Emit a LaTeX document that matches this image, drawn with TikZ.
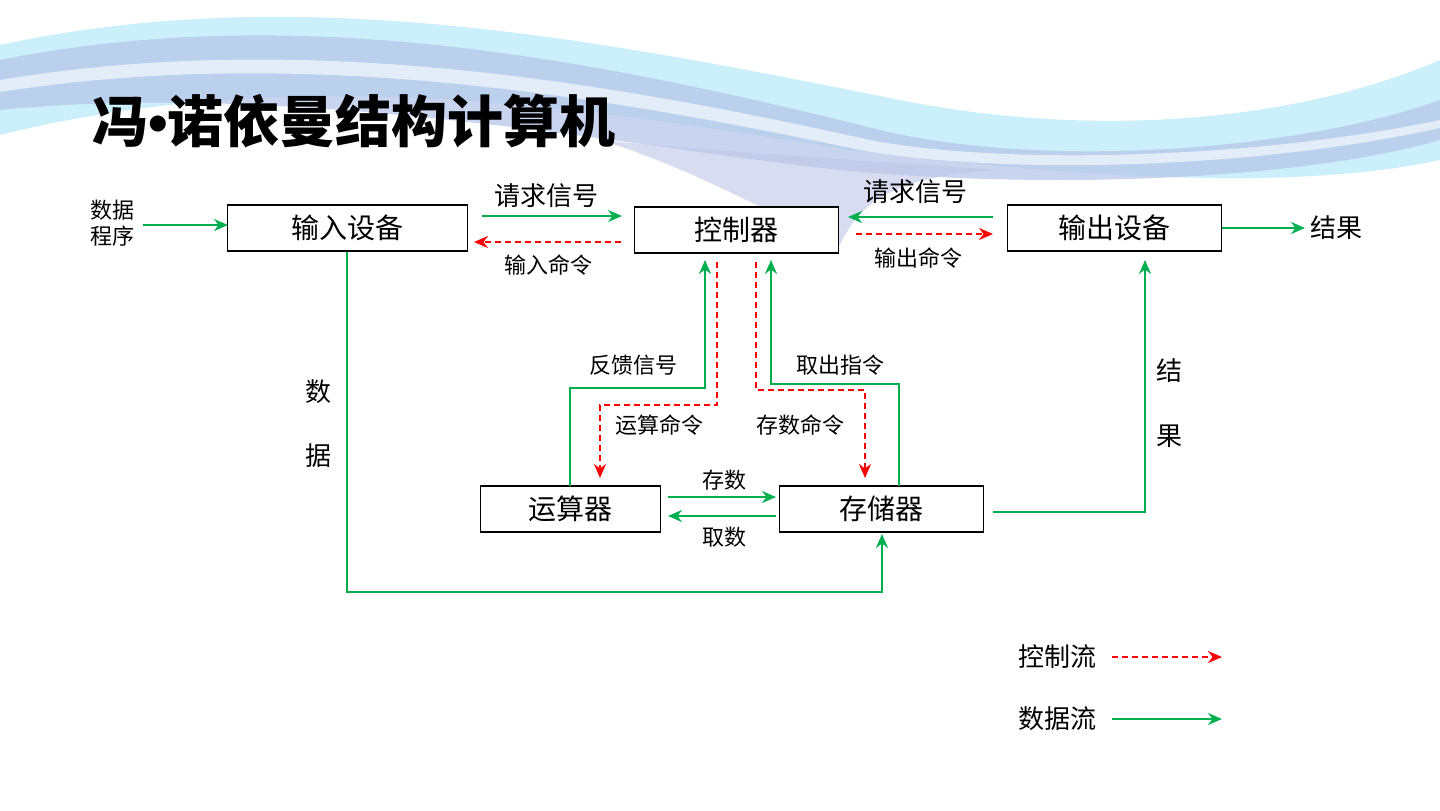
\documentclass[tikz,border=0pt]{standalone}
\usepackage{fontspec}
\setmainfont{Noto Sans CJK SC}
\newfontfamily\latn{Liberation Sans}
\usetikzlibrary{arrows.meta}
\begin{document}
\begin{tikzpicture}[x=0.5pt,y=-0.5pt,
 box/.style={draw=black,line width=0.8pt,minimum width=#1,minimum height=23pt,inner sep=0pt,font=\fontsize{14}{14}\selectfont},
 lbl/.style={font=\fontsize{11}{13}\selectfont,inner sep=1pt},
 g/.style={draw={rgb,255:red,0;green,176;blue,80},line width=1.1pt,-{Stealth[length=7pt,width=6pt]}},
 r/.style={draw=red,line width=1.1pt,dashed,dash pattern=on 3pt off 2pt,-{Stealth[length=7pt,width=6pt]}}]
\useasboundingbox (0,0) rectangle (1440,810);
\fill[white] (0,0) rectangle (1440,810);
% waves
\fill[cyan!20] (0,45) .. controls (300,-20) and (600,40) .. (900,100) .. controls (1100,140) and (1300,120) .. (1440,60) -- (1440,160) .. controls (1300,190) and (1100,180) .. (850,150) .. controls (600,110) and (300,60) .. (0,135) -- cycle;
\fill[cyan!45!blue!30,opacity=0.7] (0,60) .. controls (300,0) and (600,60) .. (880,130) .. controls (1050,170) and (1300,150) .. (1440,100) -- (1440,140) .. controls (1300,180) and (1050,190) .. (840,170) .. controls (650,150) and (300,80) .. (0,110) -- cycle;
\fill[white,opacity=0.6] (0,80) .. controls (300,30) and (600,80) .. (870,140) .. controls (1000,165) and (1250,160) .. (1440,120) -- (1440,128) .. controls (1250,170) and (1000,175) .. (860,150) .. controls (600,95) and (300,45) .. (0,92) -- cycle;
\fill[cyan!35!blue!25,opacity=0.6] (600,140) .. controls (700,170) and (800,230) .. (840,245) .. controls (860,200) and (900,175) .. (1000,170) .. controls (850,160) and (700,150) .. (600,140) -- cycle;
\node[anchor=west,font=\fontsize{28}{28}\selectfont\bfseries] (title) at (85,121) {冯{\latn\bfseries •}诺依曼结构计算机};
% boxes
\node[box=120pt,fill=white] (in) at (347.5,228) {输入设备};
\node[box=102pt,fill=white] (ctl) at (736.5,230) {控制器};
\node[box=107pt,fill=white] (out) at (1114.5,228) {输出设备};
\node[box=90pt,fill=white] (alu) at (570.5,509) {运算器};
\node[box=102pt,fill=white] (mem) at (881.5,509) {存储器};
% texts
\node[lbl,align=center] (dp) at (112,223) {数据\\程序};
\node[lbl,font=\fontsize{13}{13}\selectfont] (res) at (1336,228) {结果};
\node[lbl,font=\fontsize{13}{13}\selectfont] (q1) at (546,196) {请求信号};
\node[lbl] (c1) at (548,265) {输入命令};
\node[lbl,font=\fontsize{13}{13}\selectfont] (q2) at (915,192) {请求信号};
\node[lbl] (c2) at (918,258) {输出命令};
\node[lbl,font=\fontsize{13}{13}\selectfont] (s1) at (318,392) {数};
\node[lbl,font=\fontsize{13}{13}\selectfont] (s2) at (318,456) {据};
\node[lbl,font=\fontsize{13}{13}\selectfont] (r1) at (1169,371) {结};
\node[lbl,font=\fontsize{13}{13}\selectfont] (r2) at (1169,436) {果};
\node[lbl] (fb) at (633,365) {反馈信号};
\node[lbl] (yc) at (659,425) {运算命令};
\node[lbl] (qc) at (840,365) {取出指令};
\node[lbl] (cc) at (800,425) {存数命令};
\node[lbl] (cs) at (724,480) {存数};
\node[lbl] (qs) at (724,537) {取数};
\node[lbl,font=\fontsize{13}{13}\selectfont] (lc) at (1057,657) {控制流};
\node[lbl,font=\fontsize{13}{13}\selectfont] (ld) at (1057,719) {数据流};
% coordinates
\coordinate (a1) at (143,225); \coordinate (a2) at (228,225);
\coordinate (b1) at (482,216); \coordinate (b2) at (622,216);
\coordinate (b3) at (621,242); \coordinate (b4) at (474,242);
\coordinate (d1) at (993,217); \coordinate (d2) at (848,217);
\coordinate (d3) at (856,234); \coordinate (d4) at (993,234);
\coordinate (e1) at (1222,228); \coordinate (e2) at (1305,228);
\coordinate (f1) at (347,252); \coordinate (f2) at (882,534);
\coordinate (h1) at (570,486); \coordinate (h2) at (705,260);
\coordinate (i1) at (717,262); \coordinate (i2) at (600,478);
\coordinate (j1) at (756,262); \coordinate (j2) at (865,478);
\coordinate (k1) at (899,486); \coordinate (k2) at (771,260);
\coordinate (m1) at (668,497); \coordinate (m2) at (776,497);
\coordinate (m3) at (776,516); \coordinate (m4) at (668,516);
\coordinate (n1) at (993,512); \coordinate (n2) at (1145,260);
\coordinate (l1) at (1112,657); \coordinate (l2) at (1222,657);
\coordinate (l3) at (1112,719); \coordinate (l4) at (1222,719);
% connectors
\draw[g] (a1) -- (a2);
\draw[g] (b1) -- (b2);
\draw[r] (b3) -- (b4);
\draw[g] (d1) -- (d2);
\draw[r] (d3) -- (d4);
\draw[g] (e1) -- (e2);
\draw[g] (f1) |- (882,592) -- (f2);
\draw[g] (h1) |- (705,388) -- (h2);
\draw[r] (i1) |- (600,405) -- (i2);
\draw[r] (j1) |- (865,390) -- (j2);
\draw[g] (k1) |- (771,384) -- (k2);
\draw[g] (m1) -- (m2);
\draw[g] (m3) -- (m4);
\draw[g] (n1) -| (n2);
\draw[r] (l1) -- (l2);
\draw[g] (l3) -- (l4);
\end{tikzpicture}
\end{document}
